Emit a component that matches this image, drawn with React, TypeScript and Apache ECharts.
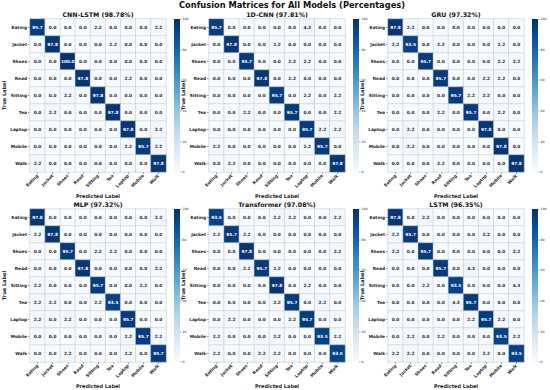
import React, { useEffect, useRef } from "react";
import * as echarts from "echarts";

const CATEGORIES = ["Eating", "Jacket", "Shoes", "Read", "Sitting", "Tea", "Laptop", "Mobile", "Walk"];
const MODEL_TITLES = [
  "CNN-LSTM (98.78%)",
  "1D-CNN (97.81%)",
  "GRU (97.32%)",
  "MLP (97.32%)",
  "Transformer (97.08%)",
  "LSTM (96.35%)",
];
const COLORBAR_TICKS = [0, 20, 40, 60, 80, 100];
const SUPTITLE = "Confusion Matrices for All Models (Percentages)";

const cnnLstm = [
  [95.7, 0, 0, 0, 2.2, 0, 0, 0, 2.2],
  [0, 97.8, 0, 0, 0, 2.2, 0, 0, 0],
  [0, 0, 100, 0, 0, 0, 0, 0, 0],
  [0, 0, 0, 97.8, 0, 0, 2.2, 0, 0],
  [0, 0, 2.2, 0, 97.8, 0, 0, 0, 0],
  [0, 2.2, 0, 0, 0, 97.8, 0, 0, 0],
  [0, 0, 0, 0, 0, 0, 97.8, 0, 2.2],
  [0, 0, 0, 0, 0, 0, 2.2, 95.7, 2.2],
  [2.2, 0, 0, 0, 0, 0, 0, 0, 97.8],
];
const cnn1d = [
  [95.7, 0, 0, 0, 0, 0, 4.3, 0, 0],
  [0, 97.8, 0, 0, 2.2, 0, 0, 0, 0],
  [0, 0, 95.7, 0, 0, 2.2, 2.2, 0, 0],
  [0, 0, 0, 97.8, 0, 2.2, 0, 0, 0],
  [0, 0, 0, 0, 95.7, 0, 2.2, 0, 2.2],
  [0, 0, 2.2, 0, 0, 95.7, 0, 0, 2.2],
  [0, 0, 0, 0, 0, 0, 95.7, 2.2, 2.2],
  [2.2, 0, 0, 0, 0, 0, 2.2, 95.7, 0],
  [0, 2.2, 0, 0, 0, 0, 0, 0, 97.8],
];
const gru = [
  [97.8, 2.2, 0, 0, 0, 0, 0, 0, 0],
  [2.2, 93.5, 0, 2.2, 0, 0, 0, 2.2, 0],
  [0, 0, 95.7, 0, 0, 0, 0, 2.2, 2.2],
  [0, 0, 0, 95.7, 0, 0, 2.2, 2.2, 0],
  [0, 0, 0, 0, 95.7, 2.2, 2.2, 0, 0],
  [0, 0, 0, 2.2, 0, 95.7, 0, 2.2, 0],
  [0, 2.2, 0, 0, 0, 0, 97.8, 0, 0],
  [0, 2.2, 0, 0, 0, 0, 0, 97.8, 0],
  [0, 0, 0, 2.2, 0, 0, 0, 0, 97.8],
];
const mlp = [
  [97.8, 0, 0, 0, 0, 0, 0, 0, 2.2],
  [2.2, 97.8, 0, 0, 0, 0, 0, 0, 0],
  [0, 0, 95.7, 0, 2.2, 2.2, 0, 0, 0],
  [0, 0, 0, 97.8, 0, 0, 0, 0, 2.2],
  [2.2, 0, 0, 0, 95.7, 0, 0, 2.2, 0],
  [2.2, 2.2, 0, 0, 2.2, 93.5, 0, 0, 0],
  [2.2, 0, 2.2, 0, 0, 0, 95.7, 0, 0],
  [0, 0, 0, 0, 0, 0, 2.2, 95.7, 2.2],
  [0, 0, 2.2, 0, 0, 0, 2.2, 0, 95.7],
];
const transformer = [
  [93.5, 0, 0, 0, 2.2, 2.2, 0, 0, 2.2],
  [2.2, 95.7, 2.2, 0, 0, 0, 0, 0, 0],
  [0, 0, 97.8, 0, 0, 0, 0, 0, 2.2],
  [0, 0, 2.2, 95.7, 2.2, 0, 0, 0, 0],
  [0, 0, 0, 0, 97.8, 0, 2.2, 0, 0],
  [0, 0, 0, 0, 2.2, 95.7, 0, 2.2, 0],
  [0, 2.2, 0, 0, 0, 2.2, 95.7, 0, 0],
  [2.2, 0, 0, 0, 2.2, 0, 0, 93.5, 2.2],
  [2.2, 0, 0, 2.2, 2.2, 0, 0, 0, 93.5],
];
const lstm = [
  [97.8, 0, 2.2, 0, 0, 0, 0, 0, 0],
  [2.2, 95.7, 0, 0, 0, 0, 2.2, 0, 0],
  [2.2, 0, 95.7, 0, 0, 0, 0, 0, 2.2],
  [0, 0, 0, 95.7, 0, 4.3, 0, 0, 0],
  [0, 0, 2.2, 0, 93.5, 0, 0, 0, 4.3],
  [0, 0, 0, 0, 4.3, 95.7, 0, 0, 0],
  [0, 0, 0, 0, 0, 2.2, 95.7, 2.2, 0],
  [0, 2.2, 0, 2.2, 0, 0, 0, 93.5, 2.2],
  [2.2, 2.2, 0, 0, 0, 0, 2.2, 0, 93.5],
];
const MATRICES = [cnnLstm, cnn1d, gru, mlp, transformer, lstm];

const BLUES = ["#f7fbff", "#deebf7", "#c6dbef", "#9ecae1", "#6baed6", "#4292c6", "#2171b5", "#08519c", "#08306b"];
const FONT = "DejaVu Sans";

export default function App() {
  const ref = useRef<HTMLDivElement>(null);
  useEffect(() => {
    if (!ref.current) return;
    const chart = echarts.init(ref.current, null, { renderer: "svg" });
    const lefts = [30, 209, 388];
    const tops = [19, 209];
    const W = 136;
    const H = 153;
    const grids: any[] = [];
    const xAxes: any[] = [];
    const yAxes: any[] = [];
    const series: any[] = [];
    const graphics: any[] = [];
    const gradient = new echarts.graphic.LinearGradient(
      0, 1, 0, 0,
      BLUES.map((c, i) => ({ offset: i / (BLUES.length - 1), color: c }))
    );
    MATRICES.forEach((m, k) => {
      const left = lefts[k % 3];
      const top = tops[Math.floor(k / 3)];
      grids.push({ left, top, width: W, height: H, containLabel: false });
      xAxes.push({
        type: "category",
        gridIndex: k,
        data: CATEGORIES,
        position: "bottom",
        axisLine: { show: false },
        axisTick: { show: true, alignWithLabel: true, length: 2, lineStyle: { color: "#333", width: 0.5 } },
        axisLabel: { rotate: 45, fontSize: 4.3, fontWeight: "bold", fontFamily: FONT, color: "#222", margin: 3, interval: 0 },
        splitLine: { show: false },
        name: "Predicted Label",
        nameLocation: "middle",
        nameGap: 21,
        nameTextStyle: { fontSize: 5, fontWeight: "bold", fontFamily: FONT, color: "#222" },
      });
      yAxes.push({
        type: "category",
        gridIndex: k,
        data: CATEGORIES,
        inverse: true,
        axisLine: { show: false },
        axisTick: { show: true, alignWithLabel: true, length: 2, lineStyle: { color: "#333", width: 0.5 } },
        axisLabel: { fontSize: 4.3, fontWeight: "bold", fontFamily: FONT, color: "#222", margin: 3, interval: 0 },
        splitLine: { show: false },
        name: "True Label",
        nameLocation: "middle",
        nameGap: 22,
        nameRotate: 90,
        nameTextStyle: { fontSize: 5, fontWeight: "bold", fontFamily: FONT, color: "#222" },
      });
      const data: any[] = [];
      m.forEach((row, r) =>
        row.forEach((v, c) => {
          data.push({ value: [c, r, v], label: { color: v > 50 ? "#ffffff" : "#262626" } });
        })
      );
      series.push({
        type: "heatmap",
        xAxisIndex: k,
        yAxisIndex: k,
        data,
        itemStyle: { borderColor: "#c0c0c0", borderWidth: 0.5 },
        label: {
          show: true,
          fontSize: 4.3,
          fontWeight: "bold",
          fontFamily: FONT,
          formatter: (p: any) => Number(p.value[2]).toFixed(1),
        },
        emphasis: { disabled: true },
      });
      graphics.push({
        type: "text",
        x: left + W / 2,
        y: top - 5,
        style: {
          text: MODEL_TITLES[k],
          fontSize: 6.3,
          fontWeight: "bold",
          fontFamily: FONT,
          fill: "#111",
          textAlign: "center",
          textVerticalAlign: "middle",
        },
      });
    });
    // colorbars
    MATRICES.forEach((_, k) => {
      const left = lefts[k % 3] + W + 8;
      const top = tops[Math.floor(k / 3)];
      const gi = 6 + k;
      grids.push({ left, top, width: 6, height: H, show: true, backgroundColor: gradient, borderWidth: 0 });
      xAxes.push({ type: "category", gridIndex: gi, data: [""], show: false });
      yAxes.push({
        type: "value",
        gridIndex: gi,
        min: COLORBAR_TICKS[0],
        max: COLORBAR_TICKS[COLORBAR_TICKS.length - 1],
        interval: COLORBAR_TICKS[1] - COLORBAR_TICKS[0],
        position: "right",
        axisLine: { show: false },
        axisTick: { show: true, length: 1.5, lineStyle: { color: "#333", width: 0.4 } },
        axisLabel: { fontSize: 3.2, fontFamily: FONT, color: "#222", margin: 2.5 },
        splitLine: { show: false },
      });
      series.push({ type: "scatter", xAxisIndex: gi, yAxisIndex: gi, data: [], silent: true });
    });
    graphics.push({
      type: "text",
      x: 292,
      y: 5,
      style: {
        text: SUPTITLE,
        fontSize: 8.3,
        fontWeight: "bold",
        fontFamily: FONT,
        fill: "#111",
        textAlign: "center",
        textVerticalAlign: "middle",
      },
    });
    chart.setOption({
      animation: false,
      backgroundColor: "#ffffff",
      grid: grids,
      xAxis: xAxes,
      yAxis: yAxes,
      visualMap: {
        show: false,
        type: "continuous",
        min: 0,
        max: 100,
        seriesIndex: [0, 1, 2, 3, 4, 5],
        dimension: 2,
        inRange: { color: BLUES },
      },
      series,
      graphic: graphics,
    });
    return () => chart.dispose();
  }, []);
  return <div ref={ref} style={{ position: "fixed", left: 0, top: 0, width: 550, height: 390 }} />;
}
